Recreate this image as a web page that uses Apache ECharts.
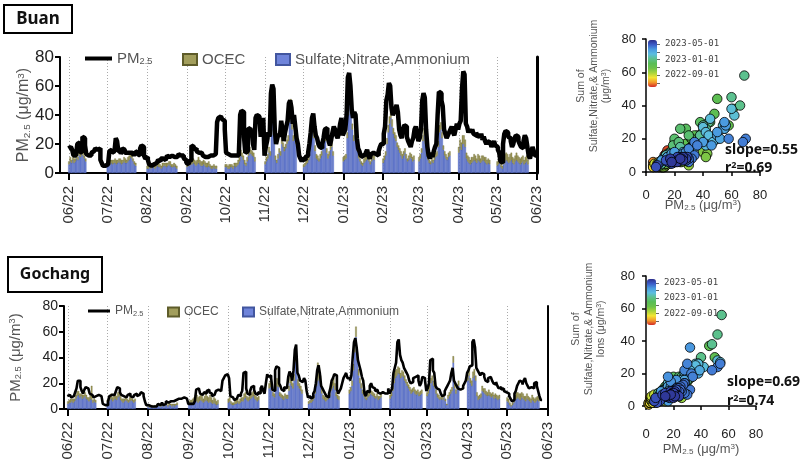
<!DOCTYPE html>
<html>
<head>
<meta charset="utf-8">
<script src="https://cdn.jsdelivr.net/npm/echarts@6/dist/echarts.min.js"></script>
<style>
  html, body { margin: 0; padding: 0; background: #fff; }
  #chart { width: 800px; height: 465px; }
</style>
</head>
<body>
<div id="chart"></div>
<script>
// month starts of the campaign, one row of every data array per month
const monthStarts = ['2022-06-01', '2022-07-01', '2022-08-01', '2022-09-01', '2022-10-01', '2022-11-01',
  '2022-12-01', '2023-01-01', '2023-02-01', '2023-03-01', '2023-04-01', '2023-05-01'];

// Buan: daily PM2.5, then sulfate+nitrate+ammonium and OCEC for the sampled days of each month
const buanPm = [
  [17,18,19,16,12,12,13,20,21,14,15,25,24,19,13,12,13,12,14,15,16,17,16,17,17,9,7,5,5,6],
  [6,5,15,16,14,15,14,24,22,15,15,13,17,16,14,14,13,14,15,14,13,12,14,15,13,12,17,19,18,12,10],
  [11,9,6,5,5,6,5,7,8,9,8,10,10,11,9,10,12,11,10,12,13,11,10,11,12,13,12,11,12,10,9],
  [7,6,8,9,19,18,16,17,15,14,13,14,13,12,11,12,11,10,12,11,12,11,13,12,35,38,39,38,37,36],
  [30,14,13,12,12,11,12,11,12,13,12,14,40,43,42,25,14,15,30,31,28,30,20,16,38,40,39,38,25,34,38],
  [12,18,22,28,25,55,61,58,30,20,24,27,25,36,30,22,28,32,36,48,50,45,34,40,32,24,20,12,10,8],
  [10,9,11,12,14,20,28,38,41,32,26,24,20,18,17,20,24,30,31,26,22,19,23,28,32,30,26,24,28,34,38],
  [26,28,30,40,66,69,60,44,38,42,40,24,17,15,12,11,13,12,14,16,12,10,13,14,15,13,14,12,15,18,20],
  [20,27,32,50,54,62,60,45,40,42,44,47,42,30,26,24,30,33,32,25,22,20,18,22,24,30,32,28],
  [22,24,30,50,55,52,30,18,12,10,14,11,15,18,20,40,56,55,50,46,30,27,24,26,28,30,32,28,26,30,34],
  [30,34,36,58,70,68,34,32,28,30,28,30,27,26,28,25,26,24,27,23,25,22,20,22,21,20,18,20,22,19],
  [18,16,14,8,7,20,27,29,28,25,24,22,18,20,24,26,25,22,20,18,17,22,26,24,18,12,10,14,18,15,12]
];
const buanSna = [
  [6,8,7,9,7,8,10,9,12,11,13,12,10,8],
  [5,6,6,7,6,7,7,6,7,8,7,6,7,8,7,7,8,9,11,10,8,6,5],
  [3,3,4,3,4,4,3,4,5,4,4,3,4,5,5,4,5,6,5,4,4,5,4,3],
  [4,5,5,6,6,7,6,5,6,7,6,5,5,6,5,4,4,5,4,3,3,4,3,3],
  [4,4,3,3,4,4,3,5,4,5,6,8,12,11,9,6,5,8,12,14,13,12,11,8],
  [6,8,10,14,12,26,38,28,9,7,10,14,12,20,18,15,17,20,22,35,44,30,22,24,20],
  [4,5,6,7,9,18,26,30,24,15,10,9,8,10,12,20,26,22,14,10,12,16,18,12],
  [8,9,10,24,40,58,45,30,22,26,28,15,10,8,6,5,7,8,9,11,8,6,8,10,9],
  [7,9,12,20,28,34,38,32,27,24,22,18,16,14,12,10,12,14,10,8,9,11,10,8,9],
  [8,10,14,22,26,20,12,9,7,6,8,7,9,11,12,18,28,30,24,16,12,10,9,11,12],
  [14,18,16,20,20,18,10,8,7,6,7,8,9,8,7,9,8,7,8,9,8,7,6,7,6],
  [5,6,7,4,3,6,8,9,8,7,8,9,7,6,8,9,8,7,6,7,8,6,7,8,6]
];
const buanOcec = [
  [2,3,2,2,3,2,3,2,3,2,3,3,2,2],
  [2,2,3,2,3,2,3,3,2,2,3,3,2,3,3,2,3,3,2,3,2,2,2],
  [2,2,2,2,2,3,2,2,2,3,2,2,3,2,2,3,2,2,3,2,2,2,2,2],
  [2,3,3,3,4,3,3,3,3,4,3,3,3,3,3,3,3,3,2,2,2,2,2,2],
  [2,2,2,3,2,2,2,2,3,2,3,3,4,3,3,3,2,3,3,4,3,3,3,3],
  [2,3,3,4,3,4,5,4,3,2,3,3,3,4,3,3,3,3,4,5,7,5,4,4,3],
  [2,2,3,3,3,4,6,7,5,4,3,3,2,3,3,4,5,4,3,3,3,3,4,3],
  [3,3,3,4,5,6,5,4,4,4,4,3,3,2,2,2,3,3,3,3,3,2,3,3,3],
  [3,3,3,4,5,5,6,5,4,4,4,3,3,3,3,3,3,3,3,2,3,3,3,3,3],
  [3,3,3,4,5,4,3,3,2,2,3,2,3,3,3,4,5,5,4,3,3,3,2,3,3],
  [4,5,5,6,6,5,4,4,4,3,4,3,4,4,3,4,4,3,4,3,3,4,3,3,3],
  [3,3,4,3,2,4,5,5,5,4,5,5,4,4,4,5,4,4,4,4,4,3,4,4,3]
];

// Gochang
const gochangPm = [
  [10,11,10,9,10,11,13,16,22,22,17,14,12,15,17,16,15,12,11,10,9,10,11,11,10,10,10,4,3,3],
  [3,6,10,11,12,11,10,14,17,16,13,11,10,11,9,10,11,12,10,9,10,11,12,10,11,12,13,12,10,6,3],
  [3,2,2,3,2,3,2,3,4,3,4,5,3,4,6,5,4,6,7,6,5,7,6,8,7,8,8,9,9,8,9],
  [4,4,5,4,4,6,15,16,15,12,11,12,13,12,14,15,13,12,10,11,12,14,15,16,14,15,22,24,26,27],
  [26,24,10,9,8,7,8,9,11,10,12,14,28,29,16,12,11,14,17,18,15,12,11,13,12,16,18,14,12,20,27],
  [25,26,24,15,14,30,33,32,20,18,15,14,17,16,15,25,29,27,22,30,46,50,28,26,22,21,20,24,22,14],
  [9,10,8,9,12,14,20,30,34,28,18,16,14,12,10,9,12,16,22,24,27,26,15,12,14,16,20,24,26,28,24],
  [24,22,26,40,52,55,48,38,34,30,25,22,12,10,14,13,18,20,17,16,14,15,13,12,11,13,12,12,13,12,16],
  [12,14,16,28,32,36,52,54,42,38,36,32,30,28,26,22,20,21,24,25,24,26,22,18,20,25,24,22],
  [14,16,20,38,39,30,28,18,16,15,14,12,10,11,14,16,18,20,22,28,32,22,20,18,16,15,14,16,18,20,22],
  [28,30,33,34,52,54,48,32,30,28,26,28,27,25,22,21,24,25,24,22,20,19,21,18,16,17,15,16,14,13],
  [14,12,10,8,6,7,12,14,18,20,22,21,19,22,24,20,18,16,17,18,16,20,21,18,14,10,7]
];
const gochangSna = [
  [4,5,5,6,5,6,8,10,11,9,10,8,9,10,8,7,6,8,7,5,6,5],
  [5,6,7,8,6,7,8,7,9,10,7,6,5,6,7,6,5,6,7,6,5,6],
  [2,1,2,2,1,2,2,2,3,2,2,3,2,3,3,2,3,3,2,3,2,3,3],
  [4,5,4,5,6,7,6,5,6,7,6,5,6,7,6,5,6,5,4,5,4,3,4],
  [5,6,4,3,3,4,4,5,4,5,6,6,8,9,7,6,7,8,9,10,8,7,6,7],
  [16,17,14,10,9,15,18,17,10,9,8,7,9,8,8,14,20,18,16,22,37,30,18,16,14,12],
  [4,5,5,6,8,12,18,22,24,20,12,8,7,6,7,8,10,14,16,18,15,10,8,7],
  [12,14,18,30,44,56,38,26,20,16,12,10,8,7,9,10,12,11,10,9,8,9,7,8,9],
  [8,10,14,20,24,26,28,27,24,26,25,22,20,18,16,14,12,13,14,12,11,12,10,11,12],
  [10,12,15,20,22,18,16,12,9,8,7,8,7,9,6,3,8,10,12,14,36,16,12,15,18],
  [22,26,20,18,24,26,22,10,7,8,9,14,13,12,11,10,11,10,9,10,8,9,8,7,8],
  [6,5,3,2,3,5,7,8,9,8,7,9,8,7,6,8,7,6,5,7,6,5,6,7,6]
];
const gochangOcec = [
  [2,2,3,2,3,2,3,4,3,3,2,3,2,3,3,2,3,3,11,2,2,2],
  [2,3,3,4,3,3,3,3,4,3,3,2,3,2,3,2,2,3,3,2,2,2],
  [1,1,1,1,1,1,1,2,1,1,2,1,2,1,2,1,2,1,2,1,2,1,2],
  [2,2,3,3,3,4,5,4,4,5,4,3,4,5,4,4,5,4,3,4,4,3,3],
  [3,3,2,2,2,3,3,3,2,3,3,3,4,4,3,3,3,4,4,4,3,3,3,3],
  [4,5,4,3,3,5,6,6,3,3,3,3,3,3,3,4,6,5,4,5,10,8,5,4,4,3],
  [2,2,2,3,3,4,6,14,10,6,4,3,3,3,3,3,3,4,5,6,5,3,3,3],
  [3,3,4,5,7,8,6,5,4,4,3,3,3,2,3,3,3,3,3,3,2,3,3,2,3],
  [3,3,4,8,6,5,5,5,4,4,4,4,3,3,3,3,3,3,3,3,3,3,3,3,3],
  [3,3,4,4,4,4,3,3,3,3,2,2,2,3,2,1,3,3,3,3,5,4,3,4,4],
  [4,5,4,4,5,5,4,3,3,3,3,4,3,4,3,3,4,3,3,3,3,3,3,3,3],
  [3,3,2,1,2,3,4,5,4,4,5,4,4,3,4,4,3,3,3,4,3,3,3,3,3]
];

// colour bar ticks (dates) and which of them carry a label
const cbarTickDates = ['2022-07-01', '2022-09-01', '2022-11-01', '2023-01-01', '2023-03-01', '2023-05-01'];
const cbarLabelDates = ['2022-09-01', '2023-01-01', '2023-05-01'];
const cbarColors = ['#d42a26', '#f39b2b', '#f3e634', '#a9d43c', '#6cc24a', '#58bd55',
  '#5cc18e', '#5cbde0', '#4a9ae0', '#3c5cc8', '#2c2f8c'];

const buanFit = ['0.55', '0.69'];
const gochangFit = ['0.69', '0.74'];

const FONT = '"Liberation Sans", Arial, sans-serif';
const DAY = 86400000;
const T0 = Date.UTC(2022, 5, 1);

function dayOf(s) {
  const p = s.split('-');
  return Math.round((Date.UTC(+p[0], +p[1] - 1, +p[2]) - T0) / DAY);
}
function dateStr(d) {
  const t = new Date(T0 + d * DAY);
  return t.getUTCFullYear() + '-' + String(t.getUTCMonth() + 1).padStart(2, '0') + '-' +
    String(t.getUTCDate()).padStart(2, '0');
}
function dayList(a, b) {
  const out = [];
  for (let d = dayOf(a); d <= dayOf(b); d++) out.push(dateStr(d));
  return out;
}
function daily(rows, cats) {
  return cats.map(c => {
    const m = monthStarts.indexOf(c.slice(0, 8) + '01');
    if (m < 0) return '-';
    const v = rows[m][+c.slice(8) - 1];
    return v == null ? '-' : v;
  });
}
function scatterPts(pm, sna) {
  const pts = [];
  monthStarts.forEach((s, m) => {
    const base = dayOf(s);
    sna[m].forEach((v, i) => {
      if (pm[m][i] != null) pts.push([pm[m][i], v, base + i]);
    });
  });
  return pts;
}

const buanDays = dayList('2022-05-25', '2023-06-01');
const gochangDays = dayList('2022-05-29', '2023-06-01');

const isMonthStart = (i, v) => v.slice(8) === '01';
const monthLabel = v => v.slice(5, 7) + '/' + v.slice(2, 4);

const richUnits = (fs, color) => ({
  sub: { fontSize: fs * 0.62, verticalAlign: 'bottom', color: color, fontFamily: FONT, padding: [fs * 0.35, 0, 0, 0] },
  sup: { fontSize: fs * 0.62, verticalAlign: 'top', color: color, fontFamily: FONT, padding: [0, 0, fs * 0.35, 0] }
});
const PM_NAME = 'PM{sub|2.5} (μg/m{sup|3})';

function tsX(grid, cats, fs, margin) {
  return {
    type: 'category', gridIndex: grid, data: cats, boundaryGap: false,
    axisLine: { lineStyle: { color: '#000', width: 2 } },
    axisTick: { interval: isMonthStart, length: 7, lineStyle: { color: '#000', width: 2 } },
    axisLabel: { interval: isMonthStart, rotate: 90, formatter: monthLabel, color: '#333', fontSize: fs, margin: margin, fontFamily: FONT },
    splitLine: { show: true, interval: isMonthStart, lineStyle: { color: '#aaa', type: [1, 2], width: 1 } }
  };
}
function tsY(grid, fs, nfs, gap) {
  return {
    type: 'value', gridIndex: grid, min: 0, max: 80, interval: 20,
    axisLine: { show: true, lineStyle: { color: '#000', width: 2 } },
    axisTick: { show: true, length: 5, lineStyle: { color: '#000', width: 2 } },
    axisLabel: { color: '#222', fontSize: fs, margin: 6, fontFamily: FONT },
    splitLine: { show: false },
    name: PM_NAME, nameLocation: 'middle', nameGap: gap, nameMoveOverlap: false,
    nameTextStyle: { color: '#555', fontSize: nfs, fontFamily: FONT, rich: richUnits(nfs, '#555') }
  };
}
function rightLine(grid, w) {
  return {
    type: 'value', gridIndex: grid, position: 'right', min: 0, max: 80,
    axisLine: { show: true, lineStyle: { color: '#000', width: w } },
    axisTick: { show: false }, axisLabel: { show: false }, splitLine: { show: false }
  };
}
function scX(grid, off, margin, gap) {
  return {
    type: 'value', gridIndex: grid, min: 0, max: 80, interval: 20, offset: off,
    axisLine: { show: true, lineStyle: { color: '#000', width: 1.5 } },
    axisTick: { show: true, length: 4, lineStyle: { color: '#000', width: 1.5 } },
    axisLabel: { color: '#222', fontSize: 13, margin: margin, fontFamily: FONT },
    splitLine: { show: false },
    name: PM_NAME, nameLocation: 'middle', nameGap: gap, nameMoveOverlap: false,
    nameTextStyle: { color: '#555', fontSize: 13, fontFamily: FONT, rich: richUnits(13, '#555') }
  };
}
function scY(grid, off) {
  return {
    type: 'value', gridIndex: grid, min: 0, max: 80, interval: 20, offset: off,
    axisLine: { show: true, lineStyle: { color: '#000', width: 1.5 } },
    axisTick: { show: true, length: 4, lineStyle: { color: '#000', width: 1.5 } },
    axisLabel: { color: '#222', fontSize: 13, margin: 5, fontFamily: FONT },
    splitLine: { show: false }
  };
}
function cbarY(grid) {
  const ticks = cbarTickDates.map(dayOf);
  const labs = cbarLabelDates.map(dayOf);
  return {
    type: 'value', gridIndex: grid, position: 'right', min: 0, max: 365,
    axisLine: { show: false },
    axisTick: { show: true, length: 4, customValues: ticks, lineStyle: { color: '#666', width: 1 } },
    axisLabel: {
      customValues: labs, margin: 8, color: '#444', fontSize: 9, fontFamily: '"DejaVu Sans Mono", monospace',
      formatter: v => cbarLabelDates[labs.indexOf(v)]
    },
    splitLine: { show: false }
  };
}
const hiddenX = g => ({ type: 'value', gridIndex: g, show: false, min: 0, max: 1 });

function legendItem(name, left, top, w, h, fs) {
  return {
    data: [name], left: left, top: top, itemWidth: w, itemHeight: h, icon: 'rect',
    padding: 0, selectedMode: false,
    formatter: n => (n === 'PM2.5' ? 'PM{sub|2.5}' : n),
    textStyle: { color: '#555', fontSize: fs, fontFamily: FONT, rich: richUnits(fs, '#555') }
  };
}

const SNA = 'Sulfate,Nitrate,Ammonium';
const snaStyle = { color: '#6f84da', borderColor: '#42569f', borderWidth: 0.3 };
const ocecStyle = { color: '#a29e5c', borderColor: '#5e5c2a', borderWidth: 0.3 };

function tsSeries(x, y, stack, cats, pm, sna, ocec, lw) {
  return [
    { name: SNA, type: 'bar', xAxisIndex: x, yAxisIndex: y, stack: stack, data: daily(sna, cats),
      barWidth: 1.6, itemStyle: snaStyle },
    { name: 'OCEC', type: 'bar', xAxisIndex: x, yAxisIndex: y, stack: stack, data: daily(ocec, cats),
      barWidth: 1.6, itemStyle: ocecStyle },
    { name: 'PM2.5', type: 'line', xAxisIndex: x, yAxisIndex: y, data: daily(pm, cats), step: 'middle',
      showSymbol: false, lineStyle: { color: '#000', width: lw }, itemStyle: { color: '#000' }, z: 3 }
  ];
}
function scSeries(x, y, pts, size) {
  return {
    type: 'scatter', xAxisIndex: x, yAxisIndex: y, data: pts, symbolSize: size,
    itemStyle: { borderColor: '#000', borderWidth: 0.8, opacity: 1 }
  };
}

function siteBox(label, x, y, w, h, fs) {
  return {
    type: 'group', children: [
      { type: 'rect', shape: { x: x, y: y, width: w, height: h }, style: { fill: '#fff', stroke: '#000', lineWidth: 2 } },
      { type: 'text', x: x + w / 2, y: y + h / 2, style: { text: label, fill: '#111', font: 'bold ' + fs + 'px "Noto Sans", sans-serif', textAlign: 'center', textVerticalAlign: 'middle' } }
    ]
  };
}
function fitText(vals, x, y1, y2) {
  const f = 'bold 14px "Noto Sans", sans-serif';
  return [
    { type: 'text', x: x, y: y1, style: { text: 'slope=' + vals[0], fill: '#111', font: f, textVerticalAlign: 'middle' } },
    { type: 'text', x: x, y: y2, style: {
      text: '{a|r}{s|2}{a|=' + vals[1] + '}', textVerticalAlign: 'middle',
      rich: { a: { font: f, fill: '#111' }, s: { font: 'bold 9px "Noto Sans", sans-serif', fill: '#111', verticalAlign: 'top' } }
    } }
  ];
}
function scName(lines, x, y) {
  return {
    type: 'text', x: x, y: y, rotation: Math.PI / 2,
    style: {
      text: lines, textAlign: 'center', textVerticalAlign: 'middle', fill: '#555',
      font: '10.5px ' + FONT, lineHeight: 12.5,
      rich: { sup: { fontSize: 7, verticalAlign: 'top', fill: '#555', fontFamily: FONT } }
    }
  };
}

const chart = echarts.init(document.getElementById('chart'));
chart.setOption({
  animation: false,
  textStyle: { fontFamily: FONT },
  grid: [
    { left: 60, right: 263, top: 57, bottom: 292 },
    { left: 62, right: 252, top: 306, bottom: 56 },
    { left: 646, right: 40, top: 39, bottom: 293 },
    { left: 646, right: 44, top: 276, bottom: 59 },
    { left: 656, width: 1, top: 40, height: 47 },
    { left: 655, width: 1, top: 279, height: 46 }
  ],
  xAxis: [tsX(0, buanDays, 15, 13), tsX(1, gochangDays, 15, 13), scX(2, 8, 9, 19), scX(3, 7, 15, 30), hiddenX(4), hiddenX(5)],
  yAxis: [tsY(0, 17, 16, 28), rightLine(0, 3), tsY(1, 14, 15, 41), rightLine(1, 2), scY(2, 5), scY(3, 6), cbarY(4), cbarY(5)],
  legend: [
    legendItem('PM2.5', 85, 51, 27, 4, 15), legendItem('OCEC', 182, 52, 14, 11, 15), legendItem(SNA, 275, 52, 14, 11, 15),
    legendItem('PM2.5', 88, 305, 22, 3, 12), legendItem('OCEC', 167, 306, 11, 9, 12), legendItem(SNA, 242, 306, 11, 9, 12)
  ],
  visualMap: [
    { type: 'continuous', seriesIndex: 6, dimension: 2, min: 0, max: 365, left: 648, top: 40, itemWidth: 9, itemHeight: 47,
      padding: 0, calculable: false, inRange: { color: cbarColors } },
    { type: 'continuous', seriesIndex: 7, dimension: 2, min: 0, max: 365, left: 647, top: 279, itemWidth: 9, itemHeight: 46,
      padding: 0, calculable: false, inRange: { color: cbarColors } }
  ],
  series: [
    ...tsSeries(0, 0, 'buan', buanDays, buanPm, buanSna, buanOcec, 4.5),
    ...tsSeries(1, 2, 'gochang', gochangDays, gochangPm, gochangSna, gochangOcec, 2.6),
    scSeries(2, 4, scatterPts(buanPm, buanSna), 9.5),
    scSeries(3, 5, scatterPts(gochangPm, gochangSna), 9.5)
  ],
  graphic: [
    siteBox('Buan', 4, 5, 68, 28, 17),
    siteBox('Gochang', 8, 257, 94, 35, 16),
    ...fitText(buanFit, 725, 150, 168),
    ...fitText(gochangFit, 727, 382, 401),
    scName('Sum of\nSulfate,Nitrate,& Ammonium\n(μg/m{sup|3})', 594, 86),
    scName('Sum of\nSulfate,Nitrate,& Ammonium\nIons (μg/m{sup|3})', 589, 329)
  ]
});
</script>
</body>
</html>
